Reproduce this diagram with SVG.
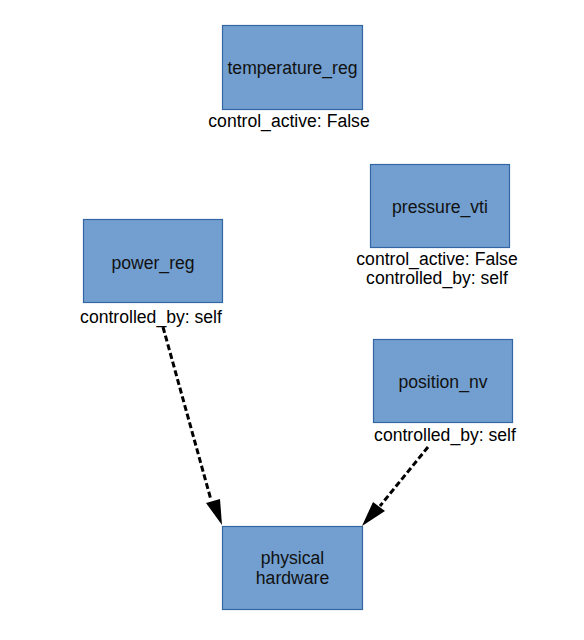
<svg xmlns="http://www.w3.org/2000/svg" width="584" height="640" viewBox="0 0 584 640">
<defs>
<style>
.box{fill:#729fcf;stroke:#3465a4;stroke-width:1.2}
text{font-family:"Liberation Sans",Arial,sans-serif;font-size:17.6px;fill:#000;text-anchor:middle}
.t{fill:#111}
.edge{stroke:#000;stroke-width:3;stroke-dasharray:6 3;fill:none}
</style>
</defs>
<rect width="584" height="640" fill="#fff"/>
<g id="temperature_reg">
<rect class="box" x="222.5" y="25.5" width="140" height="84"/>
<text class="t" x="292.5" y="74">temperature_reg</text>
<text x="289" y="127">control_active: False</text>
</g>
<g id="pressure_vti">
<rect class="box" x="370.5" y="164.5" width="139" height="83"/>
<text class="t" x="440" y="213">pressure_vti</text>
<text x="437" y="265">control_active: False</text>
<text x="437" y="284">controlled_by: self</text>
</g>
<g id="power_reg">
<rect class="box" x="83.5" y="219.5" width="139" height="83"/>
<text class="t" x="153" y="269">power_reg</text>
<text x="151" y="323">controlled_by: self</text>
</g>
<g id="position_nv">
<rect class="box" x="373.5" y="339.5" width="139" height="83"/>
<text class="t" x="443" y="388">position_nv</text>
<text x="445" y="441">controlled_by: self</text>
</g>
<g id="physical_hardware">
<rect class="box" x="222.5" y="526.5" width="140" height="83"/>
<text class="t" x="292.5" y="564">physical</text>
<text class="t" x="292.5" y="584">hardware</text>
</g>
<g id="connectors">
<path class="edge" d="M163,327 L211,500"/>
<polygon points="222,525 206,503 220,499" fill="#000"/>
<path class="edge" d="M428,447 L380,506"/>
<polygon points="362,526 373,502 385,511" fill="#000"/>
</g>
</svg>
